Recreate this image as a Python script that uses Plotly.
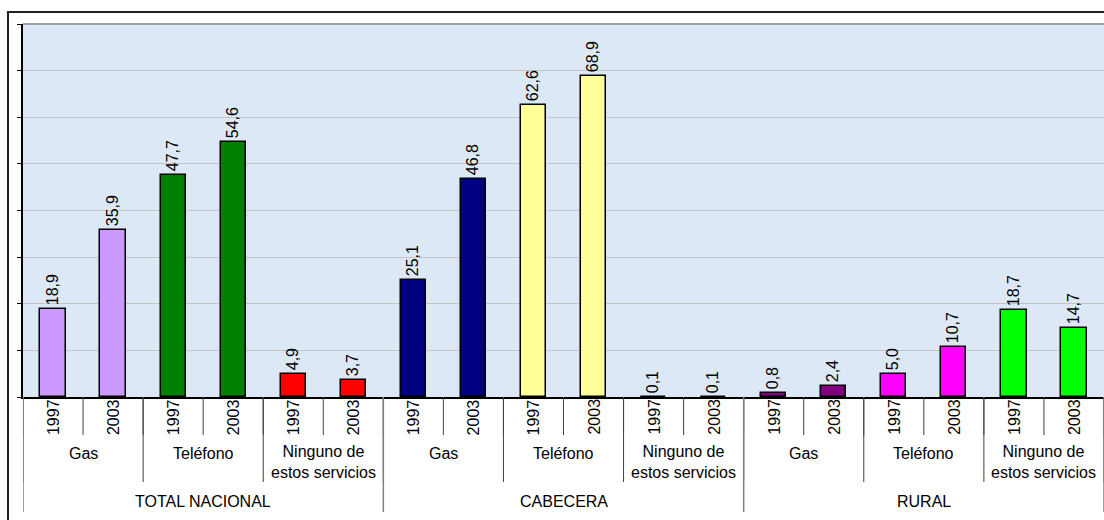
import plotly.graph_objects as go

# Data
groups = ["TOTAL NACIONAL", "CABECERA", "RURAL"]
services = ["Gas", "Teléfono", "Ninguno de<br>estos servicios"]
years = ["1997", "2003"]

total_nacional = [18.9, 35.9, 47.7, 54.6, 4.9, 3.7]
cabecera = [25.1, 46.8, 62.6, 68.9, 0.1, 0.1]
rural = [0.8, 2.4, 5.0, 10.7, 18.7, 14.7]

service_colors = [
    "#CC99FF", "#008000", "#FF0000",   # total nacional
    "#000080", "#FFFF99", "#FF9999",   # cabecera
    "#800080", "#FF00FF", "#00FF00",   # rural
]

values = total_nacional + cabecera + rural
n = len(values)
xs = list(range(n))
bar_colors = [c for c in service_colors for _ in years]
labels = [f"{v:.1f}".replace(".", ",") for v in values]

# Figure geometry (pixels)
W, H = 1104, 520
L, T, R, B = 23, 24, 0, 123
plot_h = H - T - B
plot_w = W - L - R


def py(p):
    """Pixel row -> paper y."""
    return (H - B - p) / plot_h


def px(p):
    """Pixel column -> paper x."""
    return (p - L) / plot_w


FONT = "Liberation Sans, Arial, sans-serif"
LABEL_SIZE = 16

fig = go.Figure()
fig.add_trace(go.Bar(
    x=xs, y=values, width=0.42,
    marker=dict(color=bar_colors, line=dict(color="black", width=1.5)),
    text=labels, textposition="outside", textangle=-90, constraintext="none",
    textfont=dict(family=FONT, size=16, color="black"),
    cliponaxis=False, hoverinfo="skip",
))

shapes = []
annotations = []


def label(x, y, text, angle=0):
    annotations.append(dict(xref="x", yref="paper", x=x, y=y, text=text,
                            textangle=angle, showarrow=False,
                            xanchor="center", yanchor="middle",
                            font=dict(family=FONT, size=LABEL_SIZE, color="black")))


# Year dividers and labels
for i in range(n + 1):
    shapes.append(dict(type="line", xref="x", yref="paper", x0=i - 0.5, x1=i - 0.5,
                       y0=0, y1=py(435), line=dict(color="#404040", width=1)))
for i in range(n):
    label(i, py(417), years[i % 2], angle=-90)

# Service dividers and labels
n_serv = n // 2
for k in range(n_serv + 1):
    xk = 2 * k - 0.5
    shapes.append(dict(type="line", xref="x", yref="paper", x0=xk, x1=xk,
                       y0=0, y1=py(482), line=dict(color="#404040", width=1)))
for k in range(n_serv):
    s = services[k % 3]
    label(2 * k + 0.5, py(462) if "<br>" in s else py(453), s)

# Group dividers and labels
for g in range(len(groups) + 1):
    xg = 6 * g - 0.5
    shapes.append(dict(type="line", xref="x", yref="paper", x0=xg, x1=xg,
                       y0=0, y1=py(512), line=dict(color="#808080", width=1.5)))
for g, name in enumerate(groups):
    label(6 * g + 2.5, py(501), name)

# Top edge of the plot area
shapes.append(dict(type="line", xref="paper", yref="paper", x0=0, x1=1, y0=1, y1=1,
                   line=dict(color="#A0A0A0", width=2)))
# Outer chart frame
shapes.append(dict(type="rect", xref="paper", yref="paper",
                   x0=px(8), x1=px(W + 20), y0=py(12), y1=py(H + 20),
                   line=dict(color="#202020", width=2), fillcolor="rgba(0,0,0,0)"))

fig.update_layout(
    width=W, height=H,
    margin=dict(l=L, r=R, t=T, b=B, pad=0),
    paper_bgcolor="white",
    plot_bgcolor="#DDE8F6",
    showlegend=False,
    bargap=0,
    shapes=shapes,
    annotations=annotations,
    xaxis=dict(range=[-0.5, n - 0.5], showticklabels=False, ticks="",
               showgrid=False, zeroline=False, showline=True,
               linecolor="black", linewidth=1.5, fixedrange=True),
    yaxis=dict(range=[0, 80], dtick=10, showticklabels=False, ticks="outside",
               ticklen=4, tickcolor="black", showgrid=True, gridcolor="#C4C4C4",
               gridwidth=1, zeroline=False, showline=True, linecolor="black",
               linewidth=1.5, fixedrange=True),
)

fig.write_html("out.html")
